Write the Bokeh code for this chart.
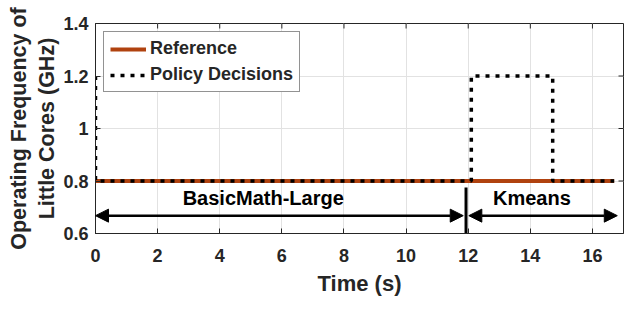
from bokeh.plotting import figure
from bokeh.models import (Arrow, NormalHead, Label, Range1d,
                          FixedTicker, Legend, LegendItem)
from bokeh.embed import file_html
from bokeh.resources import INLINE

# ---- data ----
time_ref = [0.0, 16.7]
freq_ref = [0.8, 0.8]

time_policy = [0.0, 0.0, 12.1, 12.1, 14.72, 14.72, 16.7]
freq_policy = [1.2, 0.8, 0.8, 1.2, 1.2, 0.8, 0.8]

phase_names = ["BasicMath-Large", "Kmeans"]
phase_start = [0.0, 11.93]
phase_end = [11.93, 16.8]
phase_label_x = [5.4, 14.05]
phase_arrow_y = 0.668
phase_label_y = 0.737
boundary_top = 0.775

x_ticks = [0, 2, 4, 6, 8, 10, 12, 14, 16]
y_ticks = [0.6, 0.8, 1.0, 1.2, 1.4]
y_tick_labels = ["0.6", "0.8", "1", "1.2", "1.4"]

X_MIN, X_MAX = 0, 17
Y_MIN, Y_MAX = 0.6, 1.4

FONT = "Liberation Sans"

p = figure(width=640, height=313, x_range=Range1d(X_MIN, X_MAX), y_range=Range1d(Y_MIN, Y_MAX),
           output_backend="svg", toolbar_location=None,
           min_border_left=95, min_border_right=17, min_border_top=23, min_border_bottom=80)
p.outline_line_color = "#262626"
p.outline_line_width = 1
p.background_fill_color = "white"
p.border_fill_color = "white"

for g in (p.xgrid, p.ygrid):
    g.grid_line_color = "#e2e2e2"
    g.grid_line_width = 1
p.xgrid.ticker = FixedTicker(ticks=x_ticks)
p.ygrid.ticker = FixedTicker(ticks=y_ticks)

def style_axis(ax, ticks):
    ax.ticker = FixedTicker(ticks=ticks)
    ax.major_tick_in = 5
    ax.major_tick_out = 0
    ax.minor_tick_line_color = None
    ax.axis_line_color = "#262626"
    ax.major_tick_line_color = "#262626"
    ax.major_label_text_font = FONT
    ax.major_label_text_font_style = "bold"
    ax.major_label_text_font_size = "18px"
    ax.major_label_text_color = "#262626"
    ax.axis_label_text_font = FONT
    ax.axis_label_text_font_style = "bold"
    ax.axis_label_text_color = "#262626"

style_axis(p.xaxis[0], x_ticks)
style_axis(p.yaxis[0], y_ticks)
p.xaxis[0].axis_label = "Time (s)"
p.xaxis[0].axis_label_text_font_size = "22px"
p.xaxis[0].major_label_standoff = 15
p.xaxis[0].axis_label_standoff = 6
p.yaxis[0].axis_label = "Operating Frequency of\nLittle Cores (GHz)"
p.yaxis[0].axis_label_text_font_size = "21.5px"
p.yaxis[0].major_label_overrides = {t: s for t, s in zip(y_ticks, y_tick_labels)}
p.yaxis[0].major_label_standoff = 7
p.yaxis[0].axis_label_standoff = 1

# mirrored inward tick marks on top and right edges (from the tick lists)
tick_dy = 5 * (Y_MAX - Y_MIN) / 210.0
tick_dx = 5 * (X_MAX - X_MIN) / 528.0
p.segment(x0=x_ticks, y0=[Y_MAX] * len(x_ticks), x1=x_ticks,
          y1=[Y_MAX - tick_dy] * len(x_ticks), line_color="#262626", line_width=1)
p.segment(x0=[X_MAX] * len(y_ticks), y0=y_ticks, x1=[X_MAX - tick_dx] * len(y_ticks),
          y1=y_ticks, line_color="#262626", line_width=1)

r_ref = p.line(time_ref, freq_ref, line_color="#B0420F", line_width=4)
r_pol = p.line(time_policy, freq_policy, line_color="black", line_width=3.5,
               line_dash="4 6")

legend = Legend(items=[LegendItem(label="Reference", renderers=[r_ref]),
                       LegendItem(label="Policy Decisions", renderers=[r_pol])],
                location="top_left")
legend.label_text_font = FONT
legend.label_text_font_style = "bold"
legend.label_text_font_size = "18px"
legend.label_text_color = "#262626"
legend.glyph_width = 36
legend.glyph_height = 20
legend.label_standoff = 4
legend.padding = 6
legend.spacing = 5
legend.margin = 8
legend.border_line_color = "#262626"
legend.border_line_width = 1
legend.background_fill_alpha = 1
p.add_layout(legend)

# phase annotations
gap = 0.09
for i, name in enumerate(phase_names):
    xs = phase_start[i] + (gap if i > 0 else 0)
    xe = phase_end[i] - (gap if i == 0 else 0)
    p.add_layout(Arrow(start=NormalHead(size=13, fill_color="black", line_color="black"),
                       end=NormalHead(size=13, fill_color="black", line_color="black"),
                       x_start=xs, y_start=phase_arrow_y, x_end=xe, y_end=phase_arrow_y,
                       line_color="black", line_width=2.5))
    p.add_layout(Label(x=phase_label_x[i], y=phase_label_y, text=name,
                       text_font=FONT, text_font_style="bold", text_font_size="20px",
                       text_color="black", text_align="center", text_baseline="middle"))

p.segment(x0=[phase_end[0]], y0=[Y_MIN], x1=[phase_end[0]], y1=[boundary_top],
          line_color="black", line_width=3)

open("out.html", "w").write(file_html(p, INLINE))
